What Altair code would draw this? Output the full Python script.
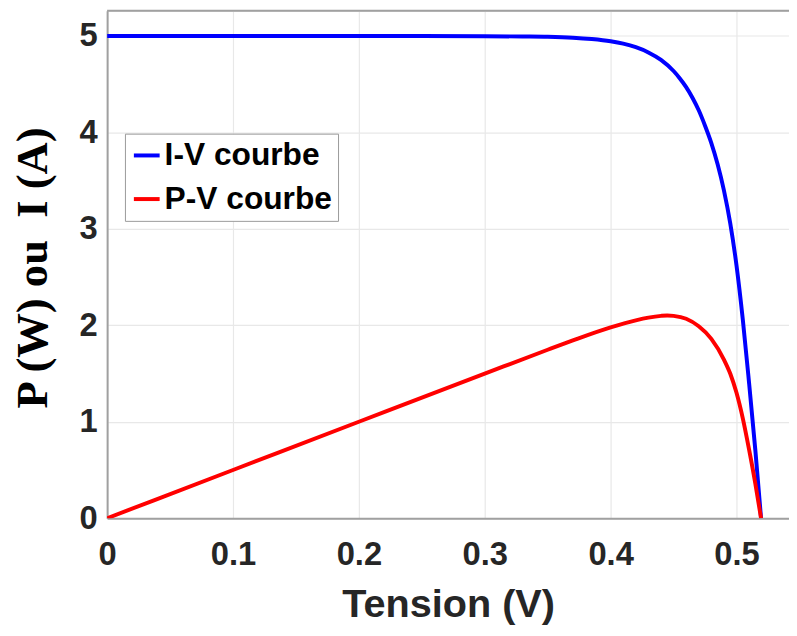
import altair as alt
import pandas as pd

# ---- data ----
series = ["I-V courbe", "P-V courbe"]

V_iv = [0.0, 0.05, 0.10, 0.15, 0.20, 0.25, 0.30, 0.33, 0.35, 0.37, 0.385, 0.40,
        0.41, 0.42, 0.43, 0.44, 0.45, 0.455, 0.46, 0.465, 0.47, 0.475, 0.48,
        0.485, 0.49, 0.495, 0.50, 0.505, 0.51, 0.515, 0.5195]
I_iv = [5.0, 5.0, 5.0, 5.0, 5.0, 5.0, 4.998, 4.995, 4.992, 4.983, 4.969, 4.946,
        4.921, 4.884, 4.83, 4.752, 4.637, 4.56, 4.47, 4.36, 4.23, 4.07, 3.89,
        3.67, 3.40, 3.06, 2.62, 2.06, 1.40, 0.70, 0.0]

V_pv = [0.0, 0.10, 0.20, 0.30, 0.35, 0.37, 0.40, 0.42, 0.43, 0.44, 0.445, 0.45,
        0.46, 0.47, 0.48, 0.49, 0.495, 0.50, 0.505, 0.51, 0.515, 0.5195]
P_pv = [0.0, 0.50, 1.00, 1.499, 1.747, 1.843, 1.978, 2.052, 2.08, 2.098, 2.102,
        2.098, 2.068, 1.99, 1.86, 1.645, 1.50, 1.30, 1.035, 0.71, 0.355, 0.0]

x_ticks = [0, 0.1, 0.2, 0.3, 0.4, 0.5]
y_ticks = [0, 1, 2, 3, 4, 5]

df = pd.concat([
    pd.DataFrame({"V": V_iv, "val": I_iv, "serie": series[0], "k": range(len(V_iv))}),
    pd.DataFrame({"V": V_pv, "val": P_pv, "serie": series[1], "k": range(len(V_pv))}),
], ignore_index=True)

W, H = 688, 512
X_MAX = 0.5417
Y_MAX = 5.262

SANS = "Liberation Sans"
SERIF = "Liberation Serif"
TXT = "#262626"

lines = alt.Chart(df).mark_line(strokeWidth=4, interpolate="monotone", clip=True).encode(
    x=alt.X("V:Q",
            scale=alt.Scale(domain=[0, X_MAX], nice=False, zero=False),
            axis=alt.Axis(values=x_ticks, format=".1~f", title="Tension (V)",
                          titleFont=SANS, titleFontSize=40, titleFontWeight="bold",
                          titleColor=TXT, titlePadding=13,
                          labelFont=SANS, labelFontSize=33, labelFontWeight="bold",
                          labelColor=TXT, labelPadding=21, labelFlush=False,
                          ticks=False, grid=True, gridColor="#e8e8e8", gridWidth=1.2,
                          domainColor="#a0a0a0", domainWidth=2)),
    y=alt.Y("val:Q",
            scale=alt.Scale(domain=[0, Y_MAX], nice=False, zero=False),
            axis=alt.Axis(values=y_ticks, format="d", title="P (W) ou\u00a0 I (A)",
                          titleFont=SERIF, titleFontSize=45, titleFontWeight="bold",
                          titleColor="#000000", titleX=-75, titleY=259,
                          titleBaseline="middle", titleAngle=270,
                          labelFont=SANS, labelFontSize=33, labelFontWeight="bold",
                          labelColor=TXT, labelPadding=10,
                          ticks=False, grid=True, gridColor="#e8e8e8", gridWidth=1.2,
                          domainColor="#a0a0a0", domainWidth=2)),
    color=alt.Color("serie:N",
                    scale=alt.Scale(domain=series, range=["#0000ff", "#ff0000"]),
                    legend=alt.Legend(title=None, orient="none", legendX=18, legendY=124,
                                      symbolType="stroke", symbolStrokeWidth=4,
                                      symbolSize=676, labelFont=SANS, labelFontSize=32,
                                      labelFontWeight="bold", labelColor="#000000",
                                      labelOffset=2, labelLimit=400, rowPadding=12,
                                      padding=6, fillColor="#ffffff",
                                      strokeColor="#9a9a9a", cornerRadius=0)),
    detail="serie:N",
    order="k:Q",
)

top_border = alt.Chart(pd.DataFrame({"a": [0]})).mark_rule(color="#a0a0a0", strokeWidth=2).encode(
    x=alt.value(0), x2=alt.value(W), y=alt.value(0)
)

chart = alt.layer(top_border, lines).properties(
    width=W, height=H,
    autosize=alt.AutoSizeParams(type="none"),
    padding={"left": 100, "top": 0, "right": 0, "bottom": 108},
).configure_view(stroke=None).configure(background="#ffffff")

chart.save("out.html", embed_options={"renderer": "svg", "actions": False})
